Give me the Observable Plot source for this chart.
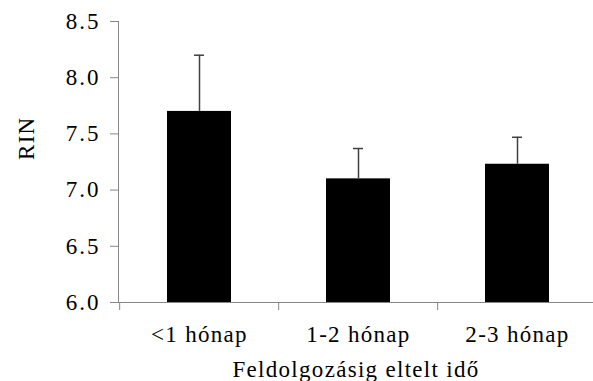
<!DOCTYPE html>
<html><head><meta charset="utf-8">
<script src="https://cdn.jsdelivr.net/npm/d3@7"></script>
<script src="https://cdn.jsdelivr.net/npm/@observablehq/plot@0.6"></script>
<style>
body{margin:0;background:#fff}
#chart svg text{letter-spacing:1.3px}
#chart svg g[aria-label="y-axis tick label"] text{letter-spacing:2px}
</style>
</head><body><div id="chart"></div>
<script>
const categories = ["<1 hónap", "1-2 hónap", "2-3 hónap"];
const means = [7.70, 7.10, 7.23];
const errTops = [8.20, 7.37, 7.47];
const yTicks = [6.0, 6.5, 7.0, 7.5, 8.0, 8.5];
const yLabel = "RIN";
const xLabel = "Feldolgozásig eltelt idő";

const data = categories.map((c, i) => ({cat: c, mean: means[i], top: errTops[i]}));
const W = 593, H = 381;
const xRange = [118, 597];
const step = (xRange[1] - xRange[0]) / categories.length;
const axisGray = "#868686";

const chart = Plot.plot({
  width: W, height: H,
  marginLeft: 118, marginTop: 21, marginBottom: 79, marginRight: 0,
  style: {fontFamily: "Liberation Serif", fontSize: "23px", background: "#fff", color: "black", overflow: "visible"},
  x: {domain: categories, range: xRange, paddingInner: 0.6, paddingOuter: 0.3, axis: null},
  y: {domain: [6, 8.5], axis: null},
  marks: [
    Plot.barY(data, {x: "cat", y1: 6, y2: "mean", fill: "black"}),
    Plot.ruleX(data, {x: "cat", y1: "mean", y2: "top", stroke: "#404040", strokeWidth: 1.5}),
    Plot.tickY(data, {x: "cat", y: "top", stroke: "#404040", strokeWidth: 1.5, inset: 27}),
    Plot.frame({anchor: "left", stroke: axisGray}),
    Plot.ruleY([6], {stroke: axisGray}),
    Plot.ruleX(categories, {x: d => d, y1: 6, y2: 6, dx: -step / 2, insetBottom: -8, stroke: axisGray}),
    Plot.axisY({ticks: yTicks, tickFormat: ".1f", tickSize: 8, tickPadding: 10, stroke: axisGray, fill: "black", fontSize: 23, fontVariant: "normal", label: null}),
    Plot.axisX({tickSize: 0, tickPadding: 23, fill: "black", fontSize: 23, label: null}),
    Plot.text([yLabel], {frameAnchor: "left", rotate: -90, lineAnchor: "middle", dx: -92, dy: -2, fontSize: 23, fill: "black"}),
    Plot.text([xLabel], {frameAnchor: "bottom", lineAnchor: "middle", dy: 67, fontSize: 23, fill: "black"})
  ]
});

document.getElementById("chart").appendChild(chart);
</script>
</body></html>
